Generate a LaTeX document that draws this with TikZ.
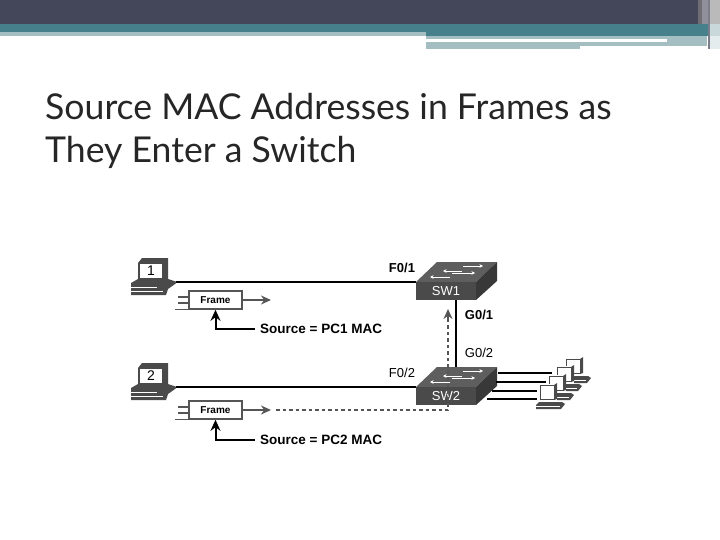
\documentclass[tikz,border=0pt]{standalone}
\usepackage{fontspec}
\setmainfont{Liberation Sans}
\newfontfamily\titlefont{Lato}
\usepackage{tikz}
\usetikzlibrary{arrows.meta, calc}
\definecolor{bannerdark}{HTML}{44465A}
\definecolor{bannerteal}{HTML}{46808A}
\definecolor{bannerpale}{HTML}{A5BEC2}
\definecolor{swfront}{HTML}{4A4A4A}
\definecolor{swtop}{HTML}{5E5E5E}
\definecolor{swside}{HTML}{383838}
\definecolor{flowgray}{HTML}{555555}
\tikzset{
  wire/.style={line width=2pt, black},
  portlabel/.style={font=\fontsize{13}{15}\selectfont, inner sep=0pt},
  portbold/.style={font=\fontsize{13}{15}\selectfont\bfseries, inner sep=0pt},
  sourcelabel/.style={font=\fontsize{13.5}{15}\selectfont\bfseries, inner sep=0pt, anchor=west},
  framebox/.style={draw=flowgray, line width=1.6pt, fill=white, minimum width=53pt, minimum height=18pt,
    inner sep=0pt, font=\fontsize{10}{12}\selectfont\bfseries},
  flowarrow/.style={-{Stealth[length=10pt, width=9pt]}, line width=1.6pt, flowgray},
  flowdash/.style={dashed, dash pattern=on 3.5pt off 3pt, line width=1.6pt, flowgray},
  srcarrow/.style={-{Stealth[length=11pt, width=10pt]}, line width=2pt, black},
  bigpc/.pic={
    \fill[swfront] (-15,-7) -- (-11,-12) -- (15,-12) -- (15,9) -- (-15,9) -- cycle;
    \node[draw=swfront, line width=.6pt, fill=white, minimum width=23pt, minimum height=15pt, inner sep=0pt,
      font=\fontsize{14}{15}\selectfont] (-mon) at (-2,0.5) {\tikzpictext};
    \fill[swfront] (-22,13) -- (-15,9) -- (15,9) -- (24,12) -- (22,14) -- (15,19) -- (13,25) -- (-22,25) -- cycle;
    \draw[white, line width=.7pt] (-22,17) -- (4,17);
    \draw[white, line width=.7pt] (-22,21) -- (10,21);
    \coordinate (-port) at (23,12);
  },
  minipc/.pic={
    \fill[white] (-9,-9) rectangle (9,9);
    \draw[swfront, line width=.7pt] (-8,-8) rectangle (6,6);
    \fill[swfront] (6,-8) -- (9,-10) -- (9,6) -- (6,7) -- cycle;
    \fill[swfront] (-12,12) -- (-9,9) -- (14,9) -- (17,11) -- (13,16) -- (-12,16) -- cycle;
    \draw[white, line width=.4pt] (-12,13) -- (12,13);
  },
  switchbox/.pic={
    \fill[swtop] (-30,-9) -- (30,-9) -- (51,-29) -- (-9,-29) -- cycle;
    \fill[swside] (30,-9) -- (51,-29) -- (51,-10) -- (30,9) -- cycle;
    \node[fill=swfront, text=white, minimum width=60pt, minimum height=18pt, inner sep=0pt,
      font=\fontsize{13}{15}\selectfont] (-front) at (0,0) {\tikzpictext};
    \coordinate (-top) at (10,-29);
    \foreach \xa/\xb/\yy in {17/37/-25, 16/-3/-20, 6/29/-18, 4/-16/-14}
      \draw[white, line width=.7pt, -{Stealth[length=3.5pt, width=3.5pt]}] (\xa,\yy) -- (\xb,\yy);
  }
}
\begin{document}
\begin{tikzpicture}[x=1pt, y=-1pt]
  \useasboundingbox (0,0) rectangle (720,540);
  % banner
  \fill[bannerdark] (0,0) rectangle (720,24);
  \fill[bannerteal] (0,24) rectangle (720,36);
  \fill[bannerpale] (0,32) rectangle (426,36);
  \fill[bannerpale] (426,36) rectangle (707,39);
  \fill[bannerpale] (426,42) rectangle (580,49);
  \fill[bannerpale] (580,42) rectangle (707,46);
  \fill[bannerpale] (667,39) rectangle (707,42);
  \fill[gray!70!bannerdark] (698,0) rectangle (707,24);
  \fill[bannerdark!60!white] (702,0) rectangle (708,24);
  \fill[black!27] (710,0) rectangle (720,24);
  \fill[bannerpale!60!white] (710,24) rectangle (720,36);
  \fill[bannerpale!30!white] (710,36) rectangle (720,49);
  \fill[bannerdark!70!white] (708,0) rectangle (710,49);
  % title
  \node[anchor=base west, inner sep=0pt, align=left, text=black!85, font=\titlefont\fontsize{35.6}{43}\selectfont]
    (title) at (45,163) {Source MAC Addresses in Frames as\\They Enter a Switch};
  % end devices and switches
  \pic[pic text=1] (pcA) at (153,270) {bigpc};
  \pic[pic text=2] (pcB) at (153,375) {bigpc};
  \pic[pic text=SW1] (swA) at (446,291) {switchbox};
  \pic[pic text=SW2] (swB) at (446,396) {switchbox};
  \foreach \nm/\xx/\yy in {d/574/367, c/565/375, b/557/384, a/548/393}
    \pic (mini\nm) at (\xx,\yy) {minipc};
  % cables
  \draw[wire] (pcA-port) -- (pcA-port -| swA-front.west);
  \draw[wire] (pcB-port) -- (pcB-port -| swB-front.west);
  \draw[wire] (swA-front.south) ++(10,0) coordinate (upA) -- (upA |- swB-top);
  \foreach \nm/\xs/\xe/\yy in {d/498/552/373, c/496/546/382, b/492/537/391, a/487/537/399} {
    \coordinate (from\nm) at (\xs,\yy);
    \coordinate (to\nm) at (\xe,\yy);
    \draw[line width=1.6pt] (from\nm) -- (to\nm);
  }
  % frames
  \foreach \id/\yy/\nm in {A/300/Frame, B/410/Frame} {
    \node[framebox] (frame\id) at (215.5,\yy) {\nm};
    \coordinate (head\id) at (271,\yy);
    \draw[flowarrow] (frame\id.east) -- (head\id);
    \draw[line width=1.3pt, flowgray] (frame\id.west) ++(0,-3) -- ++(-10,0);
    \draw[line width=1.3pt, flowgray] (frame\id.west) ++(0,3) -- ++(-10,0);
    \draw[line width=1.3pt, flowgray] (frame\id.south west) -- ++(-13,0);
  }
  % dashed path of the frame from PC2
  \coordinate (dashstart) at (276,410);
  \coordinate (dashcorner) at (448,410);
  \coordinate (dashup) at (448,322);
  \coordinate (dashtip) at (448,309);
  \draw[flowdash] (dashstart) -- (dashcorner) -- (dashup);
  \draw[flowarrow] (dashup) -- (dashtip);
  % source addresses
  \node[sourcelabel] (srcA) at (260,329) {Source = PC1 MAC};
  \node[sourcelabel] (srcB) at (260,440) {Source = PC2 MAC};
  \draw[srcarrow] (srcA.west) ++(-5,0) -| (frameA.south);
  \draw[srcarrow] (srcB.west) ++(-5,0) -| (frameB.south);
  % ports
  \node[portbold] (portFa) at (402,268) {F0/1};
  \node[portlabel] (portFb) at (402,373) {F0/2};
  \node[portbold] (portGa) at (479,315) {G0/1};
  \node[portlabel] (portGb) at (479,353) {G0/2};
\end{tikzpicture}
\end{document}
